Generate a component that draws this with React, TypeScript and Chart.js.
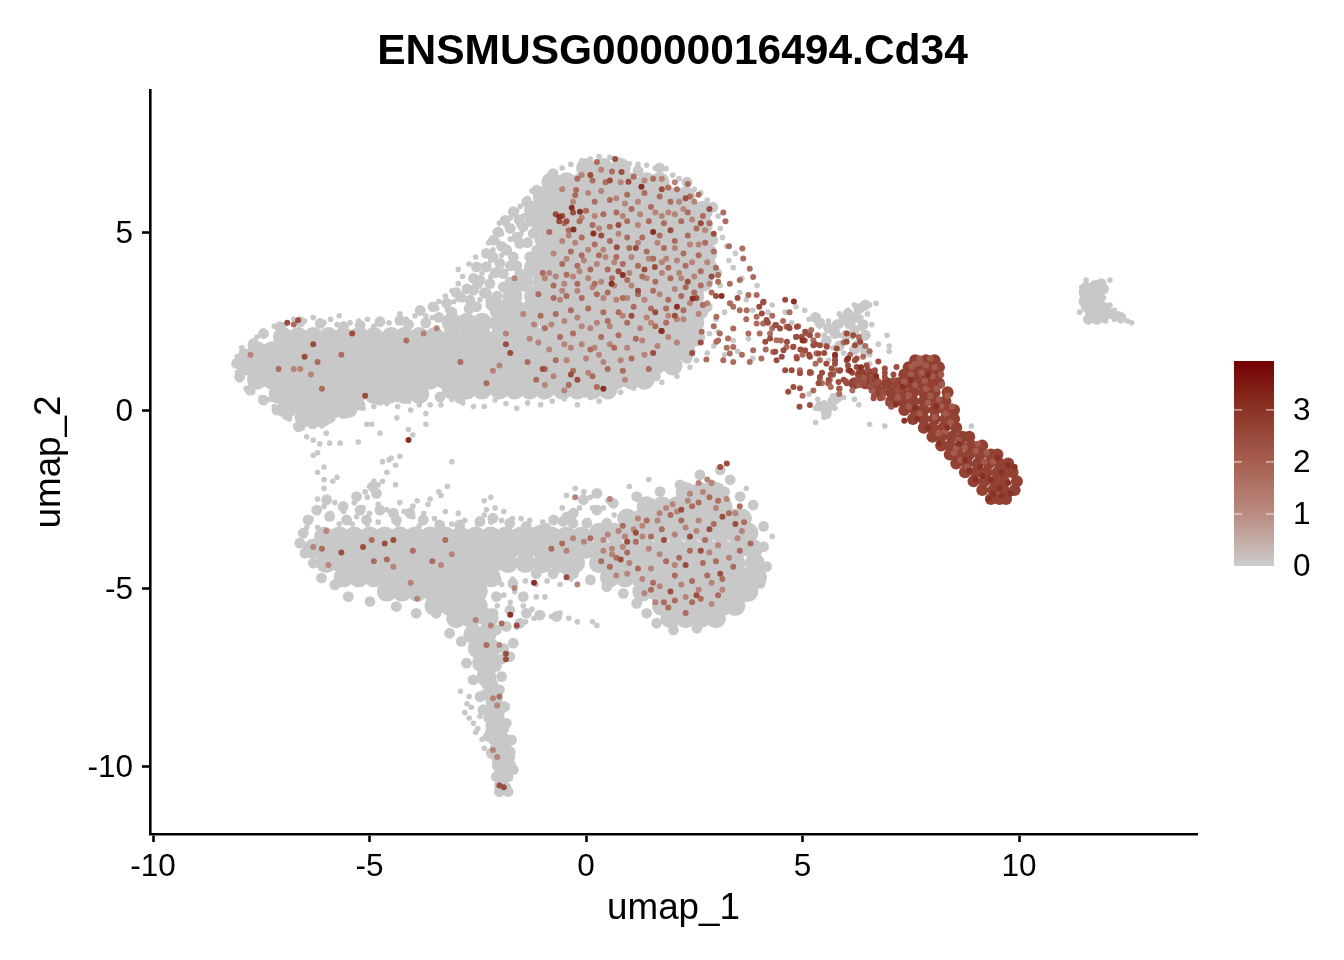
import React, { useEffect, useRef } from "react";
import { Chart, registerables } from "chart.js";

Chart.register(...registerables);

const chartTitle = "ENSMUSG00000016494.Cd34";
const xTicks = [-10, -5, 0, 5, 10];
const yTicks = [-10, -5, 0, 5];
const legendTicks = [0, 1, 2, 3];
const legendMax = 3.94;
const colorStopValues = [0, 1, 2, 3, 3.94];
const colorStopHex = ["#cccccc", "#ba8b80", "#a65f50", "#8a3426", "#730000"];

// dense cell mass: [y, x, x, ...]
const greyDenseRows: number[][] = [
  [6.8, 0.0, 0.4, 0.8],
  [6.4, -0.8, -0.45, -0.1, 0.3, 0.65, 1.0, 1.4, 1.7],
  [6.0, -1.0, -0.65, -0.3, 0.1, 0.45, 0.8, 1.2, 1.55, 1.9, 2.3],
  [5.6, -1.2, -0.85, -0.5, -0.1, 0.25, 0.6, 1.0, 1.35, 1.7, 2.1, 2.45, 2.7],
  [5.2, -1.0, -0.65, -0.3, 0.1, 0.45, 0.8, 1.2, 1.55, 1.9, 2.3, 2.7],
  [4.8, -0.85, -0.5, -0.1, 0.25, 0.6, 1.0, 1.35, 1.7, 2.1, 2.45, 2.75],
  [4.4, -1.0, -0.65, -0.3, 0.1, 0.45, 0.8, 1.2, 1.55, 1.9, 2.3, 2.65, 2.8],
  [4.0, -1.2, -0.85, -0.5, -0.1, 0.25, 0.6, 1.0, 1.35, 1.7, 2.1, 2.45, 2.8],
  [3.6, -1.45, -1.0, -0.65, -0.3, 0.1, 0.45, 0.8, 1.2, 1.55, 1.9, 2.3, 2.7],
  [3.2, -1.7, -1.2, -0.85, -0.5, -0.1, 0.25, 0.6, 1.0, 1.35, 1.7, 2.1, 2.5],
  [2.8, -2.0, -1.6, -1.3, -1.0, -0.65, -0.3, 0.1, 0.45, 0.8, 1.2, 1.55, 1.9, 2.3, 2.6],
  [2.45, -3.1, -2.75, -2.4, -2.0, -1.65, -1.3, -0.85, -0.5, -0.1, 0.25, 0.6, 1.0, 1.35, 1.7, 2.1, 2.5],
  [2.05, -7.0, -6.65, -6.3, -5.95, -5.6, -5.25, -4.9, -4.5, -4.2, -3.85, -3.5, -3.1, -2.75, -2.4, -2.0, -1.65, -1.3, -1.0, -0.65, -0.3, 0.1, 0.45, 0.8, 1.2, 1.55, 1.9, 2.3, 2.5],
  [1.65, -7.6, -7.25, -6.9, -6.5, -6.15, -5.8, -5.4, -5.05, -4.7, -4.35, -4.0, -3.6, -3.25, -2.9, -2.5, -2.15, -1.8, -1.45, -1.1, -0.75, -0.4, 0.0, 0.35, 0.7, 1.05, 1.4, 1.75, 2.1, 2.3],
  [1.25, -7.85, -7.45, -7.1, -6.75, -6.4, -6.0, -5.65, -5.3, -4.9, -4.55, -4.2, -3.85, -3.45, -3.1, -2.75, -2.4, -2.0, -1.65, -1.3, -0.95, -0.55, -0.2, 0.15, 0.5, 0.9, 1.25, 1.6, 2.0],
  [0.85, -7.6, -7.25, -6.9, -6.5, -6.15, -5.8, -5.4, -5.05, -4.7, -4.35, -4.0, -3.6, -3.25, -2.9, -2.5, -2.15, -1.8, -1.45, -1.1, -0.75, -0.4, 0.0, 0.35, 0.7, 1.05, 1.35],
  [0.58, -3.1, -2.75, -2.4, -2.0, -1.65, -1.3, -0.95, -0.55, -0.2, 0.15, 0.5],
  [0.45, -7.1, -6.75, -6.4, -6.0, -5.65, -5.3, -4.9, -4.55, -4.2, -3.85],
  [0.05, -6.9, -6.5, -6.15, -5.8, -5.5],
  [-0.2, -6.5, -6.1],
  [-2.3, 2.3, 2.65, 3.0],
  [-2.7, 1.4, 1.75, 2.1, 2.45, 2.8, 3.15],
  [-3.05, 0.95, 1.3, 1.65, 2.0, 2.35, 2.7, 3.05, 3.4, 3.6],
  [-3.45, 0.3, 0.65, 1.0, 1.35, 1.7, 2.05, 2.4, 2.75, 3.1, 3.45, 3.75],
  [-3.55, -6.05, -5.7, -5.35, -5.0, -4.65, -4.3, -3.95, -3.6, -3.25, -2.9, -2.55, -2.2, -1.85, -1.5, -1.15, -0.8, -0.45, -0.1],
  [-3.9, -6.3, -5.95, -5.6, -5.25, -4.9, -4.55, -4.2, -3.85, -3.5, -3.15, -2.8, -2.45, -2.1, -1.75, -1.4, -1.05, -0.7, -0.35, 0.0, 0.35, 0.7, 1.05, 1.4, 1.75, 2.1, 2.45, 2.8, 3.15, 3.5, 3.85],
  [-4.3, -6.0, -5.65, -5.3, -4.95, -4.6, -4.25, -3.9, -3.55, -3.2, -2.85, -2.5, -2.15, -1.8, -1.4, -1.0, -0.6, -0.25, 0.3, 0.65, 1.0, 1.35, 1.7, 2.05, 2.4, 2.75, 3.1, 3.45, 3.9],
  [-4.7, -5.6, -5.25, -4.9, -4.55, -4.2, -3.85, -3.5, -3.15, -2.8, -2.45, -2.2, 0.55, 0.9, 1.25, 1.6, 1.95, 2.3, 2.65, 3.0, 3.35, 3.7, 3.95],
  [-5.1, -4.6, -4.25, -3.9, -3.55, -3.2, -2.85, -2.5, 1.3, 1.65, 2.0, 2.35, 2.7, 3.05, 3.4, 3.75],
  [-5.5, -3.5, -3.15, -2.8, -2.5, 1.75, 2.1, 2.45, 2.8, 3.15, 3.45],
  [-5.85, -3.0, -2.65, -2.25, 1.95, 2.3, 2.65, 3.0],
  [-6.3, -2.6, -2.3],
  [-6.7, -2.5, -2.2],
  [-7.1, -2.4, -2.2],
  [-7.5, -2.3],
];

// smaller clumps of cells that shape the outline: x, y, x, y ...
const greyClumps: number[] = [
  -0.76, 6.64, -1.14, 6.18, -1.37, 5.85, -1.68, 5.57, -1.87, 5.33, -2.03, 5.0, -2.14, 4.77, -1.45, 5.15, -1.22, 4.96, -0.99, 5.24, -1.07, 4.77, -1.53, 4.68, -1.83, 4.49, -2.3, 4.4, -2.53, 4.02, -2.3, 4.02, -1.99, 4.12, -1.68, 4.3, -1.3, 4.3, -1.14, 4.49, -2.45, 3.65, -2.22, 3.55, -1.91, 3.83, -1.53, 3.83, -2.6, 3.37, -2.3, 3.27, -1.91, 3.46, -2.9, 3.18, -3.22, 3.0, -3.53, 2.9, -3.83, 2.8, -2.68, 3.09, -2.53, 2.9, -2.2, 2.95, -1.75, 5.1, -1.2, 5.6, -1.0, 5.75,
  -2.6, 3.7, -2.1, 3.85, -1.75, 3.6, -1.6, 4.05, -1.95, 4.6, -2.15, 4.3, -1.6, 4.85, -1.3, 5.3, -1.55, 5.35, -1.15, 5.05, -2.35, 3.3, -2.05, 3.2, -1.85, 3.0, -2.5, 3.55, -2.75, 3.4, -3.0, 3.3, -2.2, 3.05, -1.35, 4.7, -1.75, 4.05, -1.3, 3.95, -1.65, 3.3, -2.7, 2.85, -3.1, 2.75, -3.4, 2.6, -3.7, 2.45, -4.1, 2.4,
  -4.3, 2.52, -4.76, 2.48, -5.22, 2.38, -5.6, 2.34, -6.14, 2.43, -6.6, 2.48, -7.07, 2.34, -7.45, 2.15, -7.68, 1.87, -7.9, 1.59, -8.07, 1.31, -8.0, 0.93, -7.76, 0.56, -7.45, 0.28, -7.14, 0.0, -6.91, -0.14, -6.64, -0.47, -6.3, -0.38, -6.0, -0.19, -5.6, -0.1, -5.22, 0.14, -4.76, 0.28, -4.37, 0.37, -3.83, 0.37, -3.37, 0.37, -2.91, 0.32, -2.45, 0.46, -1.99, 0.46, -1.53, 0.6, -1.0, 0.45, -0.5, 0.45, 0.0, 0.5, 0.5, 0.65, 1.09, 0.75, 1.6, 0.95, 2.0, 1.15, 2.33, 1.45, 2.63, 2.05, 2.8, 2.9, 3.02, 3.85, 2.93, 4.78, 2.93, 5.7, 2.33, 6.4, 1.7, 6.8, 1.2, 6.72,
  -6.42, -3.09, -6.22, -2.81, -5.99, -2.52, -5.61, -2.71, -5.3, -2.43, -5.22, -2.81, -4.84, -2.34, -4.92, -2.15, -4.76, -2.81, -4.45, -2.9, -4.07, -2.9, -3.76, -3.09, -5.07, -3.09, -5.53, -3.09, -5.92, -2.99, -4.38, -3.09, -3.38, -3.23, -2.92, -3.23, -2.45, -3.13, -2.15, -3.04, -1.76, -3.18, -1.38, -3.27, -0.92, -3.32, -0.53, -3.13, -0.3, -3.18,
  -6.61, -3.74, -6.53, -3.46, -6.49, -4.02, -6.3, -4.3, -6.11, -4.72, -5.8, -4.91, -5.49, -5.24, -4.99, -5.38, -4.38, -5.52, -3.92, -5.71, -3.46, -5.71, -3.15, -6.27, -2.88, -6.5, -2.76, -7.11, -2.61, -7.58, -2.45, -8.05, -2.38, -8.42, -2.26, -9.17, -2.19, -9.64, -2.07, -10.3, -2.0, -10.72, -1.8, -10.72, -1.68, -10.1, -1.76, -9.74, -1.72, -9.27, -1.84, -8.8, -1.88, -8.33, -2.0, -7.86, -1.95, -7.49, -1.76, -6.93, -1.68, -6.55, -1.53, -5.99, -1.84, -6.08, -2.07, -6.18, -2.15, -5.71, -1.76, -5.62, -1.38, -5.71, -1.07, -5.76, -0.68, -5.8, -2.45, -5.71, -2.45, -5.33, -2.07, -5.24, -1.69, -4.87, -1.45, -5.24, -1.15, -4.6, -0.76, -4.6, -0.45, -4.5, -2.07, -4.77, -2.07, -7.2, -2.15, -8.6, -2.07, -9.08, -2.0, -9.55, -1.92, -10.1, -1.92, -10.5, -2.25, -7.9, -2.2, -8.2, -2.1, -8.0, -2.1, -8.4, -2.0, -8.7, -2.2, -8.85, -1.95, -9.0, -2.0, -9.3, -2.1, -9.5, -1.85, -9.5, -1.85, -9.9, -2.05, -9.85, -1.85, -10.25, -2.0, -10.1, -1.9, -6.7, -1.95, -7.0,
  -2.3, -7.7, -2.15, -7.7, -2.35, -8.0, -2.05, -8.15, -2.25, -8.4, -2.0, -8.5, -2.25, -8.65, -2.05, -8.85, -1.9, -8.95, -2.2, -9.0, -2.15, -9.25, -1.9, -9.2, -2.05, -9.4, -1.85, -9.4, -2.1, -9.7, -1.95, -9.75, -1.75, -9.6, -2.05, -10.0, -1.75, -9.95, -1.95, -10.3, -1.8, -10.3, -2.0, -10.55, -1.85, -10.6,
  0.25, -2.81, 0.63, -2.62, 1.17, -2.43, 1.71, -2.29, 2.17, -2.1, 2.63, -1.82, 3.1, -1.68, 3.33, -1.96, 3.56, -2.43, 3.86, -2.67, 4.1, -3.27, 4.1, -3.84, 4.17, -4.4, 4.02, -4.87, 3.71, -5.24, 3.4, -5.62, 3.02, -5.9, 2.56, -6.13, 2.02, -6.18, 1.63, -5.99, 1.4, -5.71, 1.17, -5.43, 0.86, -5.15, 0.48, -4.96, 0.1, -4.77, -0.29, -4.6, -0.44, -3.0, -0.06, -2.52, -0.29, -2.9, 0.25, -2.34, 0.02, -3.18, 0.48, -3.18, -0.75, -3.09, -1.06, -3.37, 2.9, -2.1, 3.2, -2.3,
  5.8, 2.4, 5.95, 2.55, 6.1, 2.45, 6.05, 2.7, 6.25, 2.6, 6.3, 2.85, 6.45, 2.95, 6.2, 2.25, 6.4, 2.4, 6.45, 2.1, 5.6, 2.3, 5.4, 2.45, 5.75, 2.15, 6.0, 2.1, 6.3, 1.85, 6.45, 1.65, 6.2, 1.7, 5.85, 1.8, 5.55, 1.95, 5.3, 2.6, 5.4, 0.1, 5.6, 0.1, 5.7, 0.25, 5.55, -0.1, 5.8, 0.35,
  11.55, 3.45, 11.75, 3.5, 11.95, 3.4, 11.6, 3.15, 11.85, 3.15, 11.55, 2.9, 11.7, 2.85, 11.95, 2.9, 11.7, 2.6, 11.95, 2.6, 12.15, 2.7, 12.35, 2.6, 11.85, 3.3, 11.5, 3.3, 11.65, 3.3, 11.75, 3.3, 11.9, 3.55, 11.5, 3.05, 11.7, 3.0, 11.85, 3.0, 11.65, 2.7, 11.85, 2.75, 12.05, 2.75, 11.6, 2.55, 11.8, 2.55,
];

// sparse cells: x, y, x, y ...
const greyEdgeTop: number[] = [
  0.3, 7.12, 0.55, 7.1, 0.1, 7.05, -0.1, 7.0, -0.35, 6.9, 0.75, 7.03, 1.0, 6.92, 1.2, 6.9, 1.4, 6.88, 1.6, 6.8, 1.85, 6.78, 2.0, 6.6, 2.15, 6.5, 2.33, 6.4, 2.5, 6.2, 2.65, 6.1, 2.8, 5.9, 2.95, 5.7, 3.05, 5.45, 3.1, 5.1, 3.15, 4.85, 3.25, 4.6, 3.3, 4.2, 3.45, 4.4, 3.4, 4.0, 3.6, 3.7, 3.55, 3.3, 3.35, 3.0, 3.7, 3.1, 3.1, 3.5, 3.95, 3.5, 4.2, 2.75, 3.85, 2.8, 3.2, 2.75, 3.0, 2.55, 3.05, 2.2, 2.85, 2.15, 2.95, 1.8, 3.4, 1.95, 3.75, 2.0, 3.5, 1.65, 3.85, 1.45, 3.2, 1.55, 2.8, 1.6, 2.55, 1.4, 2.4, 1.2, 2.1, 0.95, 1.75, 0.78, 1.4, 0.72, 1.1, 0.62,
  -0.55, 6.8, -0.7, 6.55, -0.95, 6.45, -1.1, 6.22, -1.25, 6.15, -1.35, 5.95, -1.52, 5.72, -1.45, 5.45, -1.6, 5.6, -1.75, 5.4, -1.85, 5.2, -2.0, 5.25, -1.95, 4.95, -2.1, 5.0, -1.7, 5.1, -1.55, 5.2, -1.5, 4.95, -1.75, 4.8, -2.05, 4.75, -2.25, 4.7, -2.35, 4.45, -2.15, 4.5, -2.55, 4.3, -2.7, 4.1, -2.45, 4.05, -2.2, 4.2, -1.95, 4.35, -1.85, 4.6, -2.4, 3.85, -2.85, 3.75, -2.95, 3.95, -2.55, 3.7, -2.2, 3.75, -2.05, 3.95, -2.95, 3.55, -3.1, 3.35, -2.8, 3.4, -2.55, 3.35, -3.25, 3.2, -3.4, 3.05, -3.05, 3.05, -2.85, 3.1, -2.45, 3.1,
  -3.2, 2.8, -3.45, 2.85, -3.7, 2.65, -3.55, 2.6, -3.95, 2.65, -4.15, 2.55, -4.3, 2.7, -3.3, 2.55, -4.55, 2.45, -4.75, 2.55, -4.9, 2.35, -5.15, 2.25, -5.05, 2.55, -5.25, 2.5, -5.45, 2.45, -5.7, 2.65, -5.75, 2.4, -5.9, 2.55, -6.05, 2.45, -6.3, 2.6, -6.5, 2.5, -6.75, 2.55, -6.95, 2.4, -7.2, 2.35, -7.4, 2.15, -7.6, 2.05, -7.75, 1.85, -7.95, 1.75, -8.05, 1.5, -8.1, 1.3, -8.05, 1.05, -8.0, 0.85, -7.85, 0.6, -7.7, 0.5, -7.5, 0.35, -7.3, 0.3, -7.2, 0.1, -7.05, 0.0, -7.05, -0.1, -6.85, -0.25, -6.7, -0.45, -6.55, -0.5, -6.35, -0.45, -6.1, -0.45, -5.85, -0.25, -5.6, -0.12, -5.4, 0.08, -5.15, 0.05, -4.9, 0.1, -4.6, 0.18, -4.35, 0.1, -4.1, 0.25, -3.85, 0.15, -3.6, 0.15, -3.35, 0.15, -3.1, 0.3, -2.85, 0.2, -2.6, 0.1, -2.35, 0.1, -2.1, 0.28, -1.85, 0.18, -1.6, 0.05, -1.35, 0.2, -1.05, 0.15, -0.78, 0.25, -0.5, 0.32, -0.2, 0.15, 0.1, 0.35, 0.3, 0.25, 0.55, 0.4, 0.8, 0.5,
];
const greyBridge: number[] = [
  4.3, 2.95, 4.6, 2.75, 4.85, 2.9, 5.05, 2.8, 4.75, 2.45, 5.15, 2.55, 5.35, 2.65, 5.1, 2.2, 5.4, 2.35, 5.6, 2.5, 5.75, 2.3, 5.9, 2.4, 5.5, 2.1, 5.85, 2.1, 6.05, 2.35, 6.1, 2.55, 6.25, 2.75, 6.4, 2.85, 6.55, 2.95, 6.7, 3.0, 6.2, 2.95, 6.35, 2.6, 6.05, 2.8, 5.85, 2.7, 6.5, 2.7, 5.95, 1.9, 6.15, 2.05, 6.35, 2.3, 6.45, 2.1, 6.6, 2.4, 6.4, 1.75, 6.55, 1.55, 6.2, 1.65, 5.95, 1.6, 5.7, 1.75, 5.25, 1.85, 4.85, 2.05, 5.6, 1.4, 5.15, 0.45, 5.35, 0.3, 5.3, 0.05, 5.5, 0.2, 5.6, -0.05, 5.75, 0.05, 5.5, -0.2, 5.3, -0.35, 5.7, 0.4, 5.95, 0.35, 6.2, 0.3, 6.3, 0.15, 6.55, -0.4, 6.55, 1.3, 7.0, 1.65, 6.75, 1.85, 6.95, 2.1, 7.0, 1.8, 6.9, -0.45, 8.1, 0.55, 8.4, 0.55, 8.9, -0.45, 8.6, -0.55,
  11.45, 3.45, 11.55, 3.65, 11.75, 3.55, 11.95, 3.45, 12.1, 3.65, 11.45, 3.1, 11.4, 2.75, 11.55, 2.55, 11.75, 2.55, 12.0, 2.5, 11.6, 3.15, 11.95, 3.15, 12.1, 2.95, 12.05, 2.65, 12.2, 2.8, 12.3, 2.7, 12.4, 2.62, 12.5, 2.5, 12.6, 2.45, 12.35, 2.5, 12.2, 2.55, 11.9, 2.7, 11.6, 2.75,
];
const greyLoose: number[] = [
  -6.3, -0.84, -5.92, -0.93, -5.68, -0.93, -5.26, -0.9, -6.3, -1.27, -6.2, -1.2, -4.76, -0.65, -5.06, -0.4, -4.95, -0.4, -4.1, -0.55, -4.37, -0.22, -4.0, -0.7, -3.7, -0.4, -3.7, -0.1, -4.05, 0.0, -4.5, -1.35, -4.3, -1.3, -3.1, -1.45, -5.9, -0.3, -6.0, -0.65,
  -6.45, -0.75, -6.15, -0.95, -6.05, -1.6, -6.2, -1.75, -5.75, -1.89, -5.85, -2.0, -6.05, -1.95, -6.05, -2.2, -4.7, -1.45, -4.55, -1.4, -4.4, -1.55, -4.6, -1.75, -5.1, -2.3, -5.0, -2.15, -4.9, -2.0, -4.8, -2.1, -4.7, -2.0, -5.05, -2.45, -4.85, -2.3, -4.4, -2.1, -3.2, -2.15, -3.4, -2.3, -3.35, -2.4, -3.6, -2.5, -3.65, -2.65, -3.9, -2.55, -4.0, -2.7, -4.3, -2.6,
  -6.2, -2.5, -6.05, -2.7, -5.8, -2.6, -5.9, -2.9, -5.6, -2.85, -5.35, -2.6, -5.15, -2.75, -5.0, -2.9, -5.3, -3.0, -4.8, -2.65, -4.6, -2.8, -4.4, -2.95, -4.2, -2.85, -4.0, -3.0, -3.75, -2.9, -3.5, -3.05, -3.25, -2.85, -2.95, -2.9, -2.8, -3.1, -2.5, -3.2, -2.35, -2.95, -2.2, -3.15, -1.95, -3.1, -1.7, -3.05, -6.35, -3.05, -6.45, -3.3, -6.2, -3.3, -5.7, -3.2, -5.4, -3.2, -5.05, -3.2, -4.8, -3.15, -4.35, -3.2, -3.85, -3.25, -3.1, -3.2,
  -2.35, -2.55, -2.3, -2.8, -2.2, -2.45, -2.1, -2.75, -1.9, -2.85, -1.5, -3.05, -1.3, -3.1, -1.0, -3.15, -0.7, -3.1, -0.55, -2.75, -0.45, -2.4, -0.25, -2.2, -0.05, -2.3, 0.1, -2.45, 0.15, -2.75, 0.4, -2.75, 0.5, -2.55, -0.15, -2.75, 0.65, -2.95, -0.3, -3.05, 0.05, -3.1,
  -2.7, -8.05, -2.8, -8.5, -2.7, -8.65, -2.65, -8.35, -2.75, -8.25, -2.6, -8.8, -2.5, -8.95, -2.45, -8.6, -2.9, -7.9, -2.55, -9.05, -2.4, -9.25, -2.35, -9.5,
  -1.4, -5.95, -1.2, -5.85, -1.0, -5.75, -0.8, -5.8, -0.6, -5.7, -0.4, -5.85, -0.2, -5.95, 0.15, -5.95, 0.25, -6.05, -1.6, -6.1, -1.45, -5.5, -1.25, -5.6, -1.75, -5.4, -1.9, -5.2, -2.05, -5.5, -1.65, -5.1, -1.95, -4.9, -1.7, -4.75, -1.4, -4.8, -1.15, -4.9, -0.95, -5.25, -0.9, -4.8, -0.6, -4.9, -0.35, -4.75, -1.15, -5.25,
  4.3, -3.55, 3.7, -2.2, 1.45, -1.95, 1.0, -2.15,
];

// expressing cells: x, y, x, y ...
const cellsFaint: number[] = [
  -0.55, 6.2, -0.1, 6.6, 0.35, 6.75, 0.8, 6.4, 1.35, 6.45, 1.75, 6.5, 2.05, 6.4, 2.5, 5.85, 2.25, 5.65, 1.75, 5.45, 1.2, 5.85, 0.7, 5.95, 0.35, 6.15, 0.05, 6.1, -0.3, 5.85, -0.1, 5.4, 0.2, 5.45, 0.85, 5.45, 1.25, 5.5, 1.6, 5.55, 2.05, 5.5, 2.45, 5.35, 2.75, 5.05, 2.4, 4.65, 2.05, 4.55, 1.65, 4.7, 1.2, 4.7, 0.75, 4.95, 0.4, 4.5, 0.05, 4.5, -0.25, 4.7, -0.55, 4.75, -0.75, 4.4, -0.45, 4.25, -0.05, 4.2, 0.25, 4.1, 0.65, 4.15, 1.05, 4.3, 1.45, 4.25, 1.75, 4.15, 2.1, 4.2, 2.45, 4.15, 2.8, 4.15, 2.85, 3.55, 2.5, 3.75, 2.15, 3.85, 1.75, 3.85, 1.4, 3.7, 1.0, 3.85, 0.65, 3.5, 0.35, 3.6, 0.05, 3.7, -0.3, 3.75, -0.7, 3.75, -0.55, 3.35, -0.2, 3.35, 0.15, 3.45, 0.4, 3.15, 0.95, 3.15, 1.35, 3.1, 1.7, 3.25, 2.05, 3.4, 2.4, 3.0, 2.8, 3.0, 2.6, 2.7, 2.25, 2.55, 1.9, 2.65, 1.5, 2.45, 1.25, 2.3, 0.85, 2.65, 0.55, 2.35, 0.25, 2.45, -0.1, 2.35, -0.5, 2.5, -0.8, 2.4, -1.2, 2.4, -1.1, 1.9, -0.85, 1.7, -0.5, 1.85, -0.1, 1.85, 0.2, 1.75, 0.55, 1.85, 0.95, 1.75, 1.3, 1.95, 1.65, 1.8, 1.9, 2.05, 0.8, 1.4, 0.4, 1.35, 0.0, 1.45, -0.45, 1.4, -0.75, 0.95, 0.05, 1.05, 0.9, 0.85, -0.5, 0.55, -0.95, 0.7,
  0.4, -3.95, 0.6, -4.05, 0.85, -3.85, 1.1, -3.35, 1.3, -3.55, 1.65, -3.1, 1.85, -2.75, 2.1, -2.85, 2.4, -2.35, 2.6, -2.05, 2.8, -1.95, 0.75, -3.4, 0.5, -3.5, 1.2, -3.05, 2.3, -3.3, 3.0, -2.75, 3.25, -2.5, 3.5, -3.6, 2.55, -3.4, 3.05, -3.8, 2.85, -4.0, 2.05, -4.35, 1.7, -4.05, 3.3, -4.15, 2.6, -5.05, 2.2, -4.9, 1.7, -4.95, 2.9, -5.45, 1.3, -4.75, 0.95, -4.6,
  -7.75, 1.55, -6.75, 1.15, -6.6, 1.15, -6.35, 1.0, -3.75, 2.15, -3.45, 2.3, -2.0, 1.25, -2.15, 1.1, 0.9, 5.8, 1.2, 5.2, 0.3, 5.1, -0.4, 4.9, 1.9, 5.55, 2.15, 5.85, -0.15, 3.9, -0.5, 3.55, 1.05, 3.5, 0.45, 4.3, 0.7, 3.1, 1.4, 2.6, 2.1, 2.55, -0.85, 3.85, -0.95, 3.7, -0.6, 3.1, -0.2, 2.6, 0.1, 2.3, 2.2, 3.7, 2.6, 4.65, 1.85, 4.25, 2.1, 1.9, 1.35, 1.55, -1.3, 2.0, -0.35, 1.75, 0.3, 1.55, -1.45, 2.7, -1.65, 3.7, -1.85, 2.15,
  -6.3, -3.85, -6.0, -3.4, -5.95, -4.35, -4.45, -4.4, -4.05, -4.85, -3.9, -5.3, -3.35, -4.35, -3.1, -4.05, -2.2, -6.05, -2.0, -6.6, -2.15, -8.1, -2.05, -8.3, -2.15, -9.55, -2.05, -9.75, -2.55, -5.9, -1.65, -5.0, -0.2, -4.9, -0.45, -3.95, -0.3, -3.6, -0.05, -3.7, 0.6, -3.9, 0.9, -3.55, 1.3, -3.25, 1.7, -2.9, 2.0, -2.65, 2.35, -2.55, 2.7, -2.3, 2.9, -2.05, 1.0, -4.3, 0.7, -4.65, 1.5, -4.45, 0.4, -3.65, 1.45, -3.9, 2.6, -3.1, 3.45, -2.9, 3.6, -3.4, 0.55, -2.5, -0.25, -2.45, 2.05, -3.5, 2.9, -4.85, 3.15, -5.05, 2.3, -5.25, 1.35, -5.15, 1.6, -5.4,
];
const cellsMid: number[] = [
  -6.75, 2.4, -7.1, 1.15, -6.2, 1.35, -6.1, 0.6, -5.65, 1.55, -4.15, 1.95, -2.9, 1.35, -2.3, 0.75, -0.85, 5.0, 0.45, 6.4, 0.15, 6.45, -0.2, 6.5, -0.23, 6.18, -0.25, 6.03, 0.25, 6.97, 0.6, 6.7, 1.1, 6.55, 1.55, 6.5, 1.9, 6.25, 2.35, 6.35, 2.6, 6.05, 2.4, 6.0, 2.1, 6.2, 1.7, 6.0, 1.35, 6.1, 0.95, 6.05, 0.55, 5.9, 0.2, 5.85, 0.0, 5.6, 0.4, 5.5, 0.7, 5.55, 1.05, 5.65, 1.5, 5.7, 1.95, 5.85, 2.35, 5.55, 2.7, 5.45, 2.85, 5.25, 2.55, 5.1, 2.2, 5.3, 1.8, 5.25, 1.45, 5.3, 0.95, 5.3, 0.55, 5.15, 0.15, 5.2, -0.15, 5.3, -0.5, 5.25, -0.4, 5.05, -0.1, 4.85, 0.2, 4.65, 0.55, 4.75, 0.95, 4.85, 1.3, 4.85, 1.7, 4.9, 2.05, 4.75, 2.35, 4.9, 2.75, 4.7, 2.95, 4.45, 2.6, 4.35, 2.25, 4.4, 1.8, 4.55, 1.4, 4.45, 1.0, 4.55, 0.7, 4.3, 0.3, 4.35, -0.1, 4.35, -0.35, 4.45, -0.55, 4.1, -0.2, 4.05, 0.1, 3.95, 0.5, 3.95, 0.85, 4.1, 1.2, 4.05, 1.55, 4.25, 1.9, 4.0, 2.3, 4.05, 2.65, 3.9, 3.0, 4.0, 3.05, 3.6, 2.65, 3.5, 2.3, 3.45, 1.95, 3.7, 1.6, 3.6, 1.3, 3.75, 0.95, 3.65, 0.6, 3.7, 0.2, 3.55, -0.2, 3.55, -0.45, 3.8, -0.75, 3.5, -1.0, 3.85, -1.1, 3.25, -0.75, 3.15, -0.45, 3.2, -0.1, 3.15, 0.25, 3.25, 0.5, 3.3, 0.85, 3.15, 1.2, 3.25, 1.55, 3.35, 1.9, 3.1, 2.2, 3.2, 2.5, 3.3, 2.9, 3.3, 2.7, 2.95, 2.25, 2.8, 1.85, 2.85, 1.5, 2.85, 1.1, 2.9, 0.75, 2.75, 0.4, 2.75, 0.05, 2.85, -0.35, 2.8, -0.7, 2.7, -1.05, 2.65, -0.95, 2.3, -0.6, 2.05, -0.3, 2.15, 0.35, 2.05, 0.75, 2.1, 1.15, 2.0, 1.6, 2.35, 1.85, 2.45, 0.95, 2.45, 0.5, 2.5, 0.1, 1.7, 0.65, 1.75, 1.05, 1.45, 1.45, 1.15, 0.5, 1.15, 0.15, 0.95, -0.3, 1.1, -0.7, 1.4, -0.95, 1.15, -1.15, 0.85, -1.35, 1.35, -0.4, 0.7, 0.25, 0.65, 0.85, 1.1,
  3.17, 5.55, 3.22, 5.3, 3.3, 4.6, 3.61, 4.54, 3.63, 4.26, 3.78, 3.97, 3.86, 3.74, 3.94, 3.23, 3.75, 3.23, 3.55, 3.65, 3.32, 3.55, 3.05, 3.79, 3.4, 2.9, 3.7, 2.55, 4.3, 2.65, 4.55, 2.5, 2.95, 2.35, 3.05, 1.95, 3.25, 1.75, 3.6, 1.55, 4.05, 1.45, 4.15, 1.7, 4.5, 1.95, 5.0, 1.55, 5.3, 1.3, 4.9, 2.35, 4.7, 2.75, 4.3, 2.3, 5.2, 1.05, 5.45, 0.75, 5.25, 0.55, 5.0, 0.4, 5.65, 0.65, 5.85, 0.45, 6.15, 0.55, 5.95, 1.9, 6.3, 2.05, 6.45, 1.8, 6.1, 1.55, 5.75, 1.5, 5.55, 1.8, 5.35, 2.1, 5.2, 2.25, 6.55, 1.65, 6.4, 1.5,
  3.71, 2.8, 3.94, 2.62, 4.09, 2.43, 4.4, 2.38, 4.63, 2.34, 4.86, 2.06, 5.09, 2.15, 5.25, 1.96, 4.25, 2.15, 3.94, 2.43, 4.01, 2.15, 4.4, 1.96, 4.63, 1.77, 4.78, 1.77, 4.86, 1.5, 5.32, 1.59, 5.4, 1.4, 4.94, 1.12, 5.17, 1.03, 5.4, 0.84, 5.63, 0.84, 5.78, 1.12, 3.4, 1.77, 3.28, 2.01, 3.09, 2.15, 2.67, 2.2, 3.01, 1.92, 3.17, 1.4, 3.4, 1.35, 3.78, 1.35, 2.78, 1.42, 3.32, 1.59, 3.86, 1.68, 4.32, 1.63, 3.4, 2.29, 3.75, 2.15, 3.55, 2.8, 3.32, 3.0, 3.01, 2.62,
  -4.95, -3.65, -6.1, -3.9, -4.9, -4.25, -4.6, -4.2, -4.0, -3.95, -3.55, -4.25, -3.25, -3.65, -2.3, -6.6, -1.95, -6.0, -2.0, -8.05, -0.8, -3.9, -0.55, -3.75, 0.1, -3.6, 0.35, -4.25, 0.55, -4.4, 0.7, -4.15, 0.95, -4.0, 0.85, -3.25, 1.15, -3.7, 1.4, -3.1, 1.5, -3.55, 1.75, -3.35, 1.95, -2.95, 2.2, -3.1, 2.45, -2.7, 2.6, -2.6, 2.85, -2.45, 3.05, -2.55, 3.3, -2.9, 3.55, -2.7, 3.65, -3.15, 3.8, -3.75, 2.95, -3.2, 2.75, -3.65, 2.4, -3.95, 2.15, -4.15, 2.7, -4.3, 3.0, -4.25, 3.4, -4.4, 3.55, -3.95, 1.85, -4.25, 1.55, -4.85, 1.2, -4.45, 2.05, -4.65, 2.45, -4.8, 2.8, -4.65, 3.15, -4.75, 1.8, -5.4, 2.05, -5.35, 2.45, -5.4, 1.9, -5.55, 2.3, -5.7, 2.65, -5.3, 3.05, -5.2, 1.5, -5.05,
];
const cellsHigh: number[] = [
  -6.9, 2.45, -6.65, 2.52, -6.3, 1.85, -5.4, 2.15, -6.5, 1.5, -5.1, 0.4, -1.85, 1.85, -1.75, 1.6, -1.0, 1.15, -0.35, 1.0, -0.55, 5.45, -0.7, 5.5, -0.45, 5.3, -0.3, 5.55, -0.62, 5.3, 0.67, 7.05, 0.82, 6.69, 0.98, 6.41, 0.55, 6.45, 1.75, 6.2, 2.3, 5.95, 0.1, 6.6, 0.75, 5.2, 1.95, 5.05, 0.35, 4.9, 2.65, 5.25, 2.85, 5.65, 1.15, 4.55, 0.71, 4.57, 2.95, 4.95, 1.59, 4.02, 1.35, 3.95, 0.75, 3.9, 1.2, 3.35, 2.35, 3.6, 2.55, 3.15, 2.9, 3.75, 2.05, 2.65, 1.6, 2.75, 1.05, 2.65, 1.75, 2.22, 2.65, 1.9, 2.45, 1.6, 1.55, 1.6, -0.2, 0.85,
  4.09, 3.02, 3.0, 3.2, 3.5, 3.15, 4.6, 3.1, 4.0, 2.9, 4.2, 2.45, 4.7, 2.3, 4.85, 2.05, 5.05, 1.95, 5.3, 1.85, 4.95, 1.7, 5.15, 1.55, 5.5, 1.6, 5.55, 1.3, 5.75, 1.3, 5.85, 1.1, 5.45, 1.05, 5.65, 1.0, 6.05, 1.25, 6.25, 1.45, 6.15, 1.05, 6.3, 0.9, 6.5, 1.15, 6.6, 0.95, 5.95, 0.85, 6.75, 0.8, 6.9, 1.05, 6.85, 0.5, 7.1, 1.0, 7.2, 0.55, 6.65, 0.4, 7.0, 0.2, 6.6, 0.7,
  4.1, 3.04, 4.06, 2.71, 4.17, 2.53, 4.37, 2.39, 4.48, 2.29, 4.67, 2.34, 4.87, 2.34, 5.06, 2.2, 5.17, 2.1, 4.98, 2.06, 4.64, 1.92, 4.79, 1.78, 4.56, 1.68, 4.37, 1.64, 4.87, 1.45, 5.06, 1.68, 5.25, 1.82, 5.4, 1.82, 5.17, 1.5, 5.37, 1.59, 5.56, 1.78, 5.79, 1.73, 6.02, 1.92, 6.21, 1.82, 6.33, 1.92, 6.02, 2.15, 6.17, 2.1, 5.75, 1.4, 6.02, 1.4, 6.21, 1.4, 5.67, 1.17, 5.87, 1.12, 6.06, 1.12, 6.25, 1.21, 6.48, 1.26, 5.4, 0.93, 5.6, 0.84, 5.83, 0.79, 6.02, 0.75, 6.21, 0.79, 6.4, 0.75, 6.56, 0.65, 6.71, 0.75, 4.94, 1.03, 5.17, 1.07, 5.37, 0.75, 4.94, 0.61, 4.79, 0.65, 5.17, 0.14, 4.93, 0.09, 4.67, 0.51, 4.6, 1.12, 4.75, 1.12, 4.4, 1.4, 4.52, 1.5, 4.25, 2.01, 4.14, 1.92, 6.75, 1.36, 6.9, 1.17, 6.67, 1.12, 7.17, 1.21, 6.9, 0.93, 7.1, 0.84, 6.98, 0.18, 6.79, 0.33, 6.64, 0.33,
  -2.0, -10.55, -1.9, -10.6, -1.85, -6.85, -1.85, -7.0, -4.45, -3.65, -4.65, -3.75, -5.65, -4.0, -5.15, -3.85, 3.1, -1.6, 3.25, -1.5, 0.95, -3.7, 1.15, -3.45, 1.8, -3.65, 2.2, -2.8, 2.4, -3.55, 2.85, -3.35, 3.15, -3.0, 3.45, -3.2, 0.8, -4.2, -0.45, -4.7, -1.6, -6.05, 2.65, -3.95, 3.1, -4.6, 2.3, -4.35, 1.95, -5.1, 2.55, -5.2,
];
const cellsTailCore: number[][] = [
  [1.4, 7.6, 7.85, 8.05],
  [1.2, 7.45, 7.7, 7.95, 8.15],
  [1.0, 6.35, 6.6, 7.35, 7.6, 7.85, 8.1],
  [0.75, 6.2, 6.45, 6.7, 6.95, 7.2, 7.45, 7.7, 7.95, 8.15],
  [0.5, 6.8, 7.05, 7.3, 7.55, 7.8, 8.05, 8.35],
  [0.25, 7.05, 7.3, 7.55, 7.8, 8.05, 8.3],
  [0.0, 7.35, 7.6, 7.8, 8.05, 8.3, 8.5],
  [-0.25, 7.55, 7.8, 8.05, 8.3, 8.5],
  [-0.5, 7.8, 8.0, 8.25, 8.55],
  [-0.75, 8.0, 8.2, 8.45, 8.7, 8.85],
  [-1.0, 8.2, 8.4, 8.65, 8.9, 9.15],
  [-1.25, 8.4, 8.6, 8.85, 9.1, 9.35, 9.5],
  [-1.5, 8.55, 8.8, 9.05, 9.3, 9.55, 9.75],
  [-1.75, 8.75, 9.0, 9.25, 9.5, 9.7, 9.85],
  [-2.0, 8.95, 9.2, 9.45, 9.65, 9.95],
  [-2.25, 9.15, 9.4, 9.65, 9.9],
  [-2.5, 9.35, 9.55, 9.7],
];
const cellsTailLight: number[] = [
  7.6, 1.3, 7.85, 1.25, 8.05, 1.2, 7.5, 1.0, 7.75, 1.05, 8.0, 0.95, 7.35, 0.8, 7.6, 0.7, 7.85, 0.6, 8.1, 0.6, 8.35, 0.4, 8.15, 0.3, 7.9, 0.2, 8.45, 0.1, 8.3, -0.1, 8.05, -0.2, 6.6, 0.55, 6.85, 0.35, 7.05, 0.1, 5.7, 1.0, 6.0, 0.8, 5.6, 0.75, 5.85, 0.6, 6.4, 0.9, 8.3, -0.6, 8.6, -0.85, 8.75, -1.05, 8.5, -1.2, 9.0, -1.15, 9.25, -1.2, 9.4, -1.45, 8.8, -1.6, 7.7, 1.45, 7.95, 1.45, 8.2, 1.0, 7.2, 0.35, 7.45, 0.1, 6.3, 0.7,
  7.72, 1.32, 7.52, 1.22, 7.82, 0.82, 8.22, 0.72, 7.25, 0.62, 7.45, 0.42, 7.95, 0.4, 8.2, 0.1, 7.7, -0.1, 8.42, -0.35, 8.15, -0.65, 8.55, -1.05, 9.05, -0.95, 9.2, -1.45, 8.65, -1.4,
];
const cellsDark: number[] = [
  -4.1, -0.84, -1.2, -4.85, -1.75, -5.75, 1.28, 6.27, -0.33, 5.68, -0.14, 5.57, -0.62, 5.43, -0.29, 5.07, 0.17, 4.96, 1.55, 5.0, 0.85, 3.79, 0.59, 3.55, 2.1, 2.9, 2.46, 3.13, 3.13, 3.2, 1.74, 2.22, 0.4, 0.6,
  4.8, 3.05, 5.0, 1.95, 5.75, 1.55, 6.05, 1.45, 6.1, 1.1, 6.35, 1.2, 6.7, 0.95, 7.3, 0.65, 7.15, 0.15, 7.6, 0.05, 7.65, -0.25, 7.9, -0.5, 8.1, 0.1, 8.15, -0.95, 8.35, -0.5, 8.6, -0.95, 8.75, -1.4, 9.15, -1.85, 9.55, -2.2, 9.8, -2.35, 9.9, -1.6, 8.85, -1.7, 9.5, -1.35, 9.3, -2.5, 7.35, -0.3, 7.9, 1.0, 7.5, 0.85, 9.1, -1.6, 9.35, -1.95, 9.6, -1.75, 9.75, -2.05, 9.4, -2.35, 9.6, -2.4, 9.0, -1.95, 9.75, -1.55,
];

function pairsToPoints(flat: number[]) {
  const out: { x: number; y: number }[] = [];
  for (let i = 0; i + 1 < flat.length; i += 2) out.push({ x: flat[i], y: flat[i + 1] });
  return out;
}
function rowsToPoints(rows: number[][]) {
  return rows.flatMap(([y, ...xs]) => xs.map((x) => ({ x, y })));
}
function hexRgb(h: string) {
  return [1, 3, 5].map((i) => parseInt(h.slice(i, i + 2), 16));
}
function valueColor(v: number) {
  let i = 0;
  while (i < colorStopValues.length - 2 && v > colorStopValues[i + 1]) i++;
  const t = (v - colorStopValues[i]) / (colorStopValues[i + 1] - colorStopValues[i]);
  const a = hexRgb(colorStopHex[i]);
  const b = hexRgb(colorStopHex[i + 1]);
  const c = a.map((n, k) => Math.round(n + (b[k] - n) * t));
  return `rgb(${c[0]},${c[1]},${c[2]})`;
}

const FONT = '"Liberation Sans", Arial, sans-serif';
const BAR = { left: 1234, right: 1274, top: 361, bottom: 566 };

const layoutPlugin = {
  id: "centerTitle",
  afterLayout(chart: any) {
    if (chart.titleBlock) {
      chart.titleBlock.left = 148;
      chart.titleBlock.right = 1197;
    }
  },
};

const colorBarPlugin = {
  id: "colorBar",
  afterDraw(chart: any) {
    const { ctx } = chart;
    const h = BAR.bottom - BAR.top;
    ctx.save();
    const g = ctx.createLinearGradient(0, BAR.bottom, 0, BAR.top);
    colorStopValues.forEach((v, i) => g.addColorStop(v / legendMax, colorStopHex[i]));
    ctx.fillStyle = g;
    ctx.fillRect(BAR.left, BAR.top, BAR.right - BAR.left, h);
    ctx.font = `31.5px ${FONT}`;
    ctx.textBaseline = "middle";
    ctx.textAlign = "left";
    legendTicks.forEach((v) => {
      const y = BAR.bottom - (v / legendMax) * h;
      ctx.fillStyle = "#000";
      ctx.fillText(String(v), 1293, y + 1);
      if (v > 0) {
        ctx.fillStyle = "rgba(255,255,255,0.85)";
        ctx.fillRect(BAR.left, y - 0.5, 8, 1);
        ctx.fillRect(BAR.right - 8, y - 0.5, 8, 1);
      }
    });
    ctx.restore();
  },
};

const scatter = (label: string, data: any[], color: string, radius: number) => ({
  label,
  data,
  backgroundColor: color,
  borderWidth: 0,
  pointRadius: radius,
  pointHoverRadius: radius,
});

export default function App() {
  const ref = useRef<HTMLCanvasElement>(null);
  useEffect(() => {
    document.body.style.margin = "0";
    const grey = "#c8c8c8";
    // Chart.js paints the first dataset last, so the list runs from top layer to bottom layer.
    const chart = new Chart(ref.current as HTMLCanvasElement, {
      type: "scatter",
      data: {
        datasets: [
          scatter("dark", pairsToPoints(cellsDark), valueColor(3.05), 3),
          scatter("high", pairsToPoints(cellsHigh), valueColor(2.4), 3),
          scatter("mid", pairsToPoints(cellsMid), valueColor(1.7), 3),
          scatter("faint", pairsToPoints(cellsFaint), valueColor(1.15), 3),
          scatter("tailLight", pairsToPoints(cellsTailLight), valueColor(2.1), 3.2),
          scatter("tail", rowsToPoints(cellsTailCore), valueColor(2.7), 6),
          scatter("loose", pairsToPoints(greyLoose), grey, 2.8),
          scatter("bridge", pairsToPoints(greyBridge), grey, 2.8),
          scatter("edge", pairsToPoints(greyEdgeTop), grey, 2.8),
          scatter("clumps", pairsToPoints(greyClumps), grey, 5.4),
          scatter("dense", rowsToPoints(greyDenseRows), grey, 10),
        ],
      },
      options: {
        animation: false,
        responsive: false,
        layout: { padding: { left: 0, right: 147, top: 0, bottom: 0 } },
        plugins: {
          legend: { display: false },
          tooltip: { enabled: false },
          title: {
            display: true,
            text: chartTitle,
            color: "#000",
            font: { family: FONT, size: 42.5, weight: "bold", lineHeight: 1 },
            padding: { top: 31, bottom: 16.5 },
          },
        },
        scales: {
          x: {
            type: "linear",
            min: -10.07,
            max: 14.11,
            afterBuildTicks: (s: any) => { s.ticks = xTicks.map((value) => ({ value })); },
            afterFit: (s: any) => { s.height = 126; },
            border: { display: true, color: "#000", width: 2.6 },
            grid: { drawOnChartArea: false, drawTicks: true, tickLength: 8, tickWidth: 2.6, tickColor: "#000", color: "#000" },
            ticks: { color: "#000", font: { family: FONT, size: 31.5 }, padding: 6, maxRotation: 0, autoSkip: false },
            title: { display: true, text: "umap_1", color: "#000", font: { family: FONT, size: 36.8, lineHeight: 1 }, padding: { top: 0, bottom: 33 } },
          },
          y: {
            type: "linear",
            min: -11.91,
            max: 8.99,
            afterBuildTicks: (s: any) => { s.ticks = yTicks.map((value) => ({ value })); },
            afterFit: (s: any) => { s.width = 150; },
            border: { display: true, color: "#000", width: 2.6 },
            grid: { drawOnChartArea: false, drawTicks: true, tickLength: 8, tickWidth: 2.6, tickColor: "#000", color: "#000" },
            ticks: { color: "#000", font: { family: FONT, size: 31.5 }, padding: 9, labelOffset: 2, autoSkip: false },
            title: { display: true, text: "umap_2", color: "#000", font: { family: FONT, size: 36.8, lineHeight: 1 }, padding: { top: 31, bottom: 0 } },
          },
        },
      },
      plugins: [layoutPlugin, colorBarPlugin],
    } as any);
    return () => chart.destroy();
  }, []);
  return (
    <div style={{ position: "fixed", left: 0, top: 0, width: 1344, height: 960, background: "#fff" }}>
      <canvas ref={ref} width={1344} height={960} style={{ display: "block", width: 1344, height: 960 }} />
    </div>
  );
}
